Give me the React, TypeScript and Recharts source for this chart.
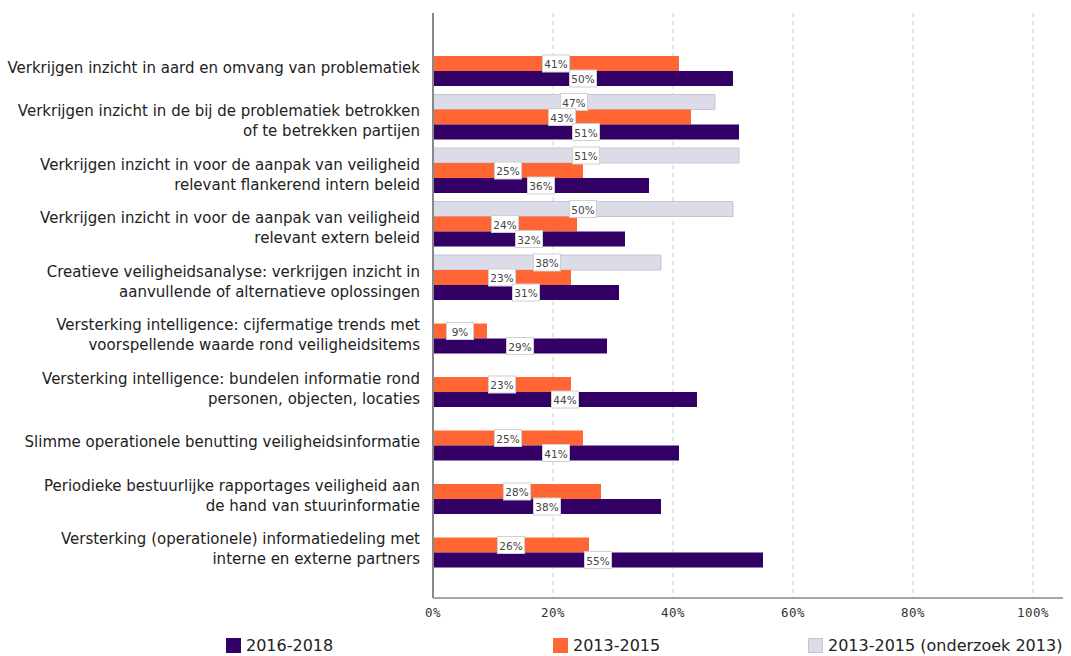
import { BarChart, Bar, XAxis, YAxis, CartesianGrid, LabelList } from "recharts";

const categories = [
  "Verkrijgen inzicht in aard en omvang van problematiek",
  "Verkrijgen inzicht in de bij de problematiek betrokken\nof te betrekken partijen",
  "Verkrijgen inzicht in voor de aanpak van veiligheid\nrelevant flankerend intern beleid",
  "Verkrijgen inzicht in voor de aanpak van veiligheid\nrelevant extern beleid",
  "Creatieve veiligheidsanalyse: verkrijgen inzicht in\naanvullende of alternatieve oplossingen",
  "Versterking intelligence: cijfermatige trends met\nvoorspellende waarde rond veiligheidsitems",
  "Versterking intelligence: bundelen informatie rond\npersonen, objecten, locaties",
  "Slimme operationele benutting veiligheidsinformatie",
  "Periodieke bestuurlijke rapportages veiligheid aan\nde hand van stuurinformatie",
  "Versterking (operationele) informatiedeling met\ninterne en externe partners",
];

const s2016 = [50, 51, 36, 32, 31, 29, 44, 41, 38, 55];
const s2013 = [41, 43, 25, 24, 23, 9, 23, 25, 28, 26];
const s2013Onderzoek = [null, 47, 51, 50, 38, null, null, null, null, null];

const xMax = 105;
const xTicks = [0, 20, 40, 60, 80, 100];
const gridValues = [20, 40, 60, 80, 100];

const seriesNames = ["2016-2018", "2013-2015", "2013-2015 (onderzoek 2013)"];
const seriesColors = ["#330066", "#ff6633", "#dcdce8"];

const data = categories.map((name, i) => ({
  name,
  a: s2016[i],
  b: s2013[i],
  c: s2013Onderzoek[i],
}));

const FONT = "'DejaVu Sans', sans-serif";

function CategoryTick(props: any) {
  const { x, y, payload } = props;
  const lines = String(payload.value).split("\n");
  const start = -((lines.length - 1) * 20) / 2 + 4;
  return (
    <g>
      {lines.map((ln, i) => (
        <text
          key={i}
          x={x}
          y={y + start + i * 20}
          textAnchor="end"
          dominantBaseline="central"
          fontFamily={FONT}
          fontSize={15}
          fill="#222"
        >
          {ln}
        </text>
      ))}
    </g>
  );
}

function ValueLabel(props: any) {
  const { x, y, width, height, value } = props;
  if (value == null) return null;
  const cx = x + width / 2;
  const cy = y + height / 2;
  return (
    <g>
      <rect x={cx - 13.5} y={cy - 8.5} width={27} height={17} fill="#fff" stroke="#d0d0d0" strokeWidth={1} />
      <text x={cx} y={cy + 0.5} textAnchor="middle" dominantBaseline="central" fontFamily={FONT} fontSize={10.5} fill="#444">
        {value}%
      </text>
    </g>
  );
}

// grid only at the tick values, not at the end of the domain
const gridX = (args: any) => {
  const sc = args?.xAxis?.scale;
  if (typeof sc === "function") return gridValues.map((v) => sc(v));
  const o = args.offset;
  return gridValues.map((v) => o.left + (v / xMax) * o.width);
};

export default function App() {
  return (
    <div style={{ position: "absolute", left: 0, top: 0, width: 1071, height: 656, overflow: "hidden", background: "#fff" }}>
      <BarChart
        width={1071}
        height={630}
        data={data}
        layout="vertical"
        margin={{ top: 13, right: 8, bottom: 0, left: 0 }}
        barGap={0}
      >
        <CartesianGrid horizontal={false} verticalCoordinatesGenerator={gridX} stroke="#cccccc" strokeDasharray="4 4" />
        <XAxis
          type="number"
          domain={[0, xMax]}
          ticks={xTicks}
          tickFormatter={(v) => `${v}%`}
          tickLine={false}
          axisLine={{ stroke: "#888", strokeWidth: 1.5 }}
          tick={{ fontFamily: "'DejaVu Sans Mono', monospace", fontSize: 12.5, fill: "#333", letterSpacing: 0.5 }}
          tickMargin={4}
          height={32}
        />
        <YAxis
          type="category"
          dataKey="name"
          width={433}
          tickSize={0}
          tickMargin={13}
          axisLine={{ stroke: "#888", strokeWidth: 2 }}
          tickLine={false}
          tick={<CategoryTick />}
          padding={{ top: 24, bottom: 26 }}
          interval={0}
        />
        <Bar dataKey="c" name={seriesNames[2]} fill={seriesColors[2]} stroke="#c4c4d4" strokeWidth={1} barSize={15} isAnimationActive={false}>
          <LabelList dataKey="c" content={<ValueLabel />} />
        </Bar>
        <Bar dataKey="b" name={seriesNames[1]} fill={seriesColors[1]} barSize={15} isAnimationActive={false}>
          <LabelList dataKey="b" content={<ValueLabel />} />
        </Bar>
        <Bar dataKey="a" name={seriesNames[0]} fill={seriesColors[0]} barSize={15} isAnimationActive={false}>
          <LabelList dataKey="a" content={<ValueLabel />} />
        </Bar>
      </BarChart>
      {seriesNames.map((n, i) => (
        <div
          key={n}
          style={{
            position: "absolute",
            left: [226, 553, 808][i],
            top: 636,
            height: 19,
            lineHeight: "19px",
            display: "flex",
            alignItems: "center",
            whiteSpace: "nowrap",
            fontFamily: FONT,
            fontSize: 16,
            color: "#222",
          }}
        >
          <span style={{ display: "inline-block", width: 15, height: 15, background: seriesColors[i], border: i === 2 ? "1px solid #c4c4d4" : "none", boxSizing: "border-box", marginRight: 5 }} />
          {n}
        </div>
      ))}
    </div>
  );
}
